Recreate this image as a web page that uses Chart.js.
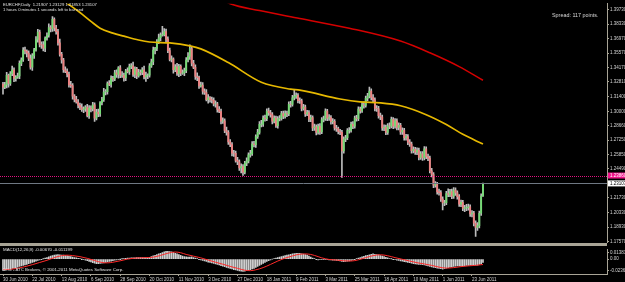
<!DOCTYPE html>
<html>
<head>
<meta charset="utf-8">
<script src="https://cdn.jsdelivr.net/npm/chart.js@4.4.0/dist/chart.umd.min.js"></script>
<style>
    html, body { margin: 0; padding: 0; background: #000; }
    #wrap { position: relative; width: 625px; height: 282px; overflow: hidden; background: #000; }
    canvas { position: absolute; left: 0; }
    .txt { position: absolute; font-family: 'Liberation Sans', Arial, sans-serif; white-space: pre; color: #e0e0e0; line-height: 1; }
</style>
</head>
<body>
<div id="wrap">
    <canvas id="price" width="625" height="246" style="top:0"></canvas>
    <div style="position:absolute;left:0;top:243px;width:607px;height:3px;background:#a8a496"></div>
    <canvas id="macd" width="625" height="36" style="top:246px"></canvas>
    <div class="txt" style="left:3px;top:3px;font-size:4.2px">EURCHF,Daily  1.21907 1.23129 1.21853 1.23107</div>
    <div class="txt" style="left:3px;top:8px;font-size:4.2px">1 hours 0 minutes 1 seconds left to bar end</div>
    <div class="txt" style="left:552px;top:13px;font-size:5.4px;color:#d8d8d8">Spread: 117 points.</div>
    <div class="txt" style="left:3px;top:248px;font-size:4.4px">MACD(12,26,9) -0.00670 -0.011199</div>
    <div class="txt" style="left:3px;top:268px;font-size:4.4px">MT4 - ATC Brokers, © 2001-2011 MetaQuotes Software Corp.</div>
</div>
<script>
// EURCHF daily, bar 0 = 30 Jun 2010, bar 262 = current bar
const opens = [
    1.3260,1.3231,1.3253,1.3345,1.3267,1.3359,1.3397,1.3314,1.3326,1.3338,
    1.3458,1.3493,1.3585,1.3577,1.3556,1.3505,1.3422,1.3532,1.3587,1.3687,
    1.3759,1.3639,1.3636,1.3605,1.3701,1.3728,1.3801,1.3789,1.3880,1.3798,
    1.3763,1.3655,1.3545,1.3491,1.3398,1.3382,1.3354,1.3253,1.3246,1.3146,
    1.3115,1.3089,1.3058,1.3037,1.3016,1.3024,1.3040,1.2958,1.3030,1.3023,
    1.3063,1.2934,1.2993,1.2976,1.3082,1.3112,1.3185,1.3188,1.3266,1.3258,
    1.3316,1.3309,1.3368,1.3352,1.3416,1.3343,1.3345,1.3319,1.3387,1.3380,
    1.3429,1.3435,1.3352,1.3406,1.3338,1.3373,1.3371,1.3397,1.3329,1.3345,
    1.3347,1.3434,1.3474,1.3585,1.3601,1.3664,1.3704,1.3730,1.3733,1.3763,
    1.3691,1.3580,1.3497,1.3500,1.3399,1.3425,1.3362,1.3430,1.3366,1.3368,
    1.3390,1.3491,1.3526,1.3599,1.3460,1.3420,1.3333,1.3322,1.3244,1.3251,
    1.3193,1.3180,1.3112,1.3129,1.3113,1.3106,1.3070,1.3072,1.3018,1.2998,
    1.2906,1.2909,1.2817,1.2800,1.2708,1.2683,1.2601,1.2599,1.2531,1.2518,
    1.2460,1.2472,1.2418,1.2505,1.2526,1.2584,1.2596,1.2688,1.2681,1.2758,
    1.2799,1.2876,1.2878,1.2936,1.2929,1.3003,1.2986,1.2969,1.2906,1.2936,
    1.2864,1.2928,1.2934,1.2979,1.2953,1.2978,1.2976,1.3068,1.3066,1.3129,
    1.3146,1.3152,1.3103,1.3101,1.3028,1.3040,1.2976,1.2988,1.2924,1.2941,
    1.2841,1.2852,1.2799,1.2857,1.2802,1.2918,1.2929,1.3003,1.2934,1.2941,
    1.2901,1.2904,1.2841,1.2834,1.2807,1.2800,1.2621,1.2735,1.2747,1.2815,
    1.2817,1.2876,1.2859,1.2936,1.2929,1.3021,1.3005,1.3063,1.3056,1.3124,
    1.3145,1.3194,1.3132,1.3110,1.3028,1.3025,1.2958,1.2946,1.2841,1.2847,
    1.2799,1.2861,1.2859,1.2923,1.2859,1.2909,1.2845,1.2866,1.2802,1.2819,
    1.2747,1.2758,1.2705,1.2688,1.2624,1.2636,1.2610,1.2627,1.2559,1.2593,
    1.2554,1.2641,1.2568,1.2552,1.2432,1.2396,1.2295,1.2303,1.2230,1.2223,
    1.2160,1.2124,1.2126,1.2213,1.2206,1.2233,1.2188,1.2246,1.2220,1.2185,
    1.2113,1.2129,1.2071,1.2077,1.2079,1.2086,1.2019,1.2026,1.1930,1.1890,
    1.1907,1.2025,1.21907
];
const highs = [
    1.3278,1.3278,1.3373,1.3357,1.3381,1.3432,1.3417,1.3341,1.3366,1.3482,
    1.3511,1.3610,1.3615,1.3589,1.3578,1.3540,1.3552,1.3602,1.3715,1.3783,
    1.3777,1.3664,1.3666,1.3713,1.3750,1.3836,1.3821,1.3907,1.3895,1.3822,
    1.3785,1.3690,1.3565,1.3506,1.3426,1.3406,1.3376,1.3288,1.3266,1.3161,
    1.3143,1.3113,1.3080,1.3072,1.3044,1.3055,1.3068,1.3054,1.3052,1.3085,
    1.3081,1.3018,1.3021,1.3094,1.3134,1.3220,1.3208,1.3281,1.3294,1.3340,
    1.3334,1.3393,1.3398,1.3428,1.3438,1.3380,1.3365,1.3402,1.3415,1.3453,
    1.3457,1.3470,1.3426,1.3421,1.3401,1.3397,1.3419,1.3432,1.3375,1.3359,
    1.3456,1.3499,1.3615,1.3613,1.3686,1.3739,1.3750,1.3812,1.3791,1.3787,
    1.3713,1.3605,1.3530,1.3512,1.3447,1.3460,1.3450,1.3445,1.3396,1.3414,
    1.3513,1.3561,1.3635,1.3611,1.3488,1.3444,1.3368,1.3337,1.3279,1.3275,
    1.3215,1.3208,1.3159,1.3141,1.3137,1.3128,1.3100,1.3087,1.3046,1.3022,
    1.2937,1.2929,1.2849,1.2815,1.2730,1.2701,1.2627,1.2621,1.2559,1.2536,
    1.2497,1.2490,1.2522,1.2555,1.2602,1.2628,1.2710,1.2713,1.2776,1.2827,
    1.2901,1.2913,1.2956,1.2964,1.3025,1.3031,1.3010,1.2988,1.2958,1.2955,
    1.2950,1.2960,1.3001,1.3003,1.3004,1.3002,1.3090,1.3095,1.3152,1.3203,
    1.3177,1.3170,1.3128,1.3118,1.3066,1.3060,1.3010,1.3006,1.2965,1.2958,
    1.2877,1.2870,1.2878,1.2882,1.2940,1.2955,1.3025,1.3020,1.2968,1.2960,
    1.2930,1.2922,1.2866,1.2850,1.2829,1.2818,1.2757,1.2771,1.2836,1.2845,
    1.2897,1.2902,1.2955,1.2962,1.3044,1.3040,1.3086,1.3090,1.3146,1.3172,
    1.3231,1.3215,1.3160,1.3128,1.3055,1.3047,1.2983,1.2965,1.2870,1.2868,
    1.2884,1.2890,1.2945,1.2940,1.2930,1.2928,1.2890,1.2885,1.2843,1.2838,
    1.2781,1.2777,1.2730,1.2706,1.2660,1.2655,1.2650,1.2648,1.2616,1.2614,
    1.2663,1.2661,1.2592,1.2572,1.2455,1.2415,1.2328,1.2322,1.2256,1.2243,
    1.2183,1.2150,1.2235,1.2260,1.2255,1.2256,1.2270,1.2268,1.2240,1.2204,
    1.2152,1.2148,1.2100,1.2110,1.2112,1.2105,1.2050,1.2044,1.1952,1.1935,
    1.2046,1.2212,1.23129
];
const lows = [
    1.3165,1.3216,1.3225,1.3232,1.3247,1.3341,1.3284,1.3289,1.3314,1.3312,
    1.3436,1.3478,1.3549,1.3521,1.3485,1.3404,1.3392,1.3507,1.3575,1.3661,
    1.3617,1.3601,1.3577,1.3570,1.3681,1.3710,1.3759,1.3764,1.3770,1.3739,
    1.3633,1.3527,1.3461,1.3373,1.3370,1.3328,1.3231,1.3228,1.3116,1.3090,
    1.3077,1.3032,1.3017,1.2998,1.2986,1.2999,1.2946,1.2932,1.2995,1.3003,
    1.2903,1.2919,1.2948,1.2951,1.3062,1.3094,1.3158,1.3163,1.3246,1.3232,
    1.3287,1.3294,1.3324,1.3317,1.3323,1.3325,1.3289,1.3294,1.3368,1.3354,
    1.3409,1.3334,1.3322,1.3313,1.3326,1.3345,1.3351,1.3311,1.3287,1.3312,
    1.3327,1.3419,1.3446,1.3550,1.3581,1.3646,1.3674,1.3718,1.3721,1.3665,
    1.3560,1.3482,1.3472,1.3364,1.3379,1.3344,1.3332,1.3341,1.3354,1.3342,
    1.3370,1.3473,1.3496,1.3435,1.3408,1.3305,1.3294,1.3219,1.3232,1.3163,
    1.3162,1.3100,1.3077,1.3088,1.3080,1.3052,1.3040,1.2993,1.2986,1.2880,
    1.2884,1.2797,1.2772,1.2683,1.2663,1.2573,1.2569,1.2513,1.2490,1.2436,
    1.2410,1.2386,1.2401,1.2480,1.2506,1.2561,1.2578,1.2660,1.2655,1.2740,
    1.2781,1.2850,1.2855,1.2906,1.2911,1.2961,1.2944,1.2880,1.2890,1.2845,
    1.2840,1.2908,1.2916,1.2931,1.2935,1.2950,1.2958,1.3040,1.3050,1.3110,
    1.3124,1.3080,1.3076,1.3004,1.3012,1.2951,1.2958,1.2902,1.2900,1.2816,
    1.2818,1.2775,1.2781,1.2780,1.2786,1.2898,1.2912,1.2910,1.2913,1.2878,
    1.2880,1.2820,1.2808,1.2785,1.2776,1.2367,1.2600,1.2710,1.2729,1.2790,
    1.2800,1.2835,1.2838,1.2905,1.2910,1.2983,1.2990,1.3031,1.3040,1.3100,
    1.3128,1.3110,1.3088,1.3003,1.3000,1.2935,1.2921,1.2818,1.2815,1.2776,
    1.2780,1.2834,1.2842,1.2835,1.2840,1.2822,1.2823,1.2780,1.2780,1.2724,
    1.2725,1.2682,1.2665,1.2600,1.2602,1.2587,1.2585,1.2536,1.2540,1.2530,
    1.2535,1.2547,1.2528,1.2410,1.2372,1.2270,1.2275,1.2207,1.2199,1.2138,
    1.2057,1.2098,1.2108,1.2184,1.2185,1.2165,1.2168,1.2196,1.2160,1.2090,
    1.2088,1.2050,1.2040,1.2050,1.2055,1.1995,1.1990,1.1905,1.1804,1.1860,
    1.1885,1.2005,1.21853
];
const closes = [
    1.3231,1.3253,1.3345,1.3267,1.3359,1.3397,1.3314,1.3326,1.3338,1.3458,
    1.3493,1.3585,1.3577,1.3556,1.3505,1.3422,1.3532,1.3587,1.3687,1.3759,
    1.3639,1.3636,1.3605,1.3701,1.3728,1.3801,1.3789,1.3880,1.3798,1.3763,
    1.3655,1.3545,1.3491,1.3398,1.3382,1.3354,1.3253,1.3246,1.3146,1.3115,
    1.3089,1.3058,1.3037,1.3016,1.3024,1.3040,1.2958,1.3030,1.3023,1.3063,
    1.2934,1.2993,1.2976,1.3082,1.3112,1.3185,1.3188,1.3266,1.3258,1.3316,
    1.3309,1.3368,1.3352,1.3416,1.3343,1.3345,1.3319,1.3387,1.3380,1.3429,
    1.3435,1.3352,1.3406,1.3338,1.3373,1.3371,1.3397,1.3329,1.3345,1.3347,
    1.3434,1.3474,1.3585,1.3601,1.3664,1.3704,1.3730,1.3733,1.3763,1.3691,
    1.3580,1.3497,1.3500,1.3399,1.3425,1.3362,1.3430,1.3366,1.3368,1.3390,
    1.3491,1.3526,1.3599,1.3460,1.3420,1.3333,1.3322,1.3244,1.3251,1.3193,
    1.3180,1.3112,1.3129,1.3113,1.3106,1.3070,1.3072,1.3018,1.2998,1.2906,
    1.2909,1.2817,1.2800,1.2708,1.2683,1.2601,1.2599,1.2531,1.2518,1.2460,
    1.2472,1.2418,1.2505,1.2526,1.2584,1.2596,1.2688,1.2681,1.2758,1.2799,
    1.2876,1.2878,1.2936,1.2929,1.3003,1.2986,1.2969,1.2906,1.2936,1.2864,
    1.2928,1.2934,1.2979,1.2953,1.2978,1.2976,1.3068,1.3066,1.3129,1.3146,
    1.3152,1.3103,1.3101,1.3028,1.3040,1.2976,1.2988,1.2924,1.2941,1.2841,
    1.2852,1.2799,1.2857,1.2802,1.2918,1.2929,1.3003,1.2934,1.2941,1.2901,
    1.2904,1.2841,1.2834,1.2807,1.2800,1.2621,1.2735,1.2747,1.2815,1.2817,
    1.2876,1.2859,1.2936,1.2929,1.3021,1.3005,1.3063,1.3056,1.3124,1.3145,
    1.3194,1.3132,1.3110,1.3028,1.3025,1.2958,1.2946,1.2841,1.2847,1.2799,
    1.2861,1.2859,1.2923,1.2859,1.2909,1.2845,1.2866,1.2802,1.2819,1.2747,
    1.2758,1.2705,1.2688,1.2624,1.2636,1.2610,1.2627,1.2559,1.2593,1.2554,
    1.2641,1.2568,1.2552,1.2432,1.2396,1.2295,1.2303,1.2230,1.2223,1.2160,
    1.2124,1.2126,1.2213,1.2206,1.2233,1.2188,1.2246,1.2220,1.2185,1.2113,
    1.2129,1.2071,1.2077,1.2079,1.2086,1.2019,1.2026,1.1930,1.1890,1.1907,
    1.2025,1.2190,1.23107
];

// moving averages, read at a few bars (bar index, price)
const maSlowBars = [31, 35, 42, 48, 53, 60, 66, 74, 80, 91, 102, 108, 123, 141, 157, 162, 184, 195, 206, 217, 231, 242, 251, 262];
const maSlowValues = [1.4085, 1.4034, 1.3945, 1.3860, 1.3795, 1.3748, 1.3719, 1.3682, 1.3663, 1.3654, 1.3626, 1.3597, 1.3466, 1.3278, 1.3212, 1.3203, 1.3118, 1.3090, 1.3081, 1.3053, 1.2968, 1.2874, 1.2780, 1.2687];
const maLongBars = [118, 124, 140, 162, 189, 217, 233, 249, 262];
const maLongValues = [1.4085, 1.4029, 1.3964, 1.3888, 1.3795, 1.3672, 1.3560, 1.3428, 1.3297];

// MACD(12,26,9) main values per bar
const macdMain = [
    -0.0235,-0.0226,-0.0215,-0.0208,-0.0198,-0.0190,-0.0184,-0.0176,-0.0165,-0.0152,
    -0.0139,-0.0128,-0.0120,-0.0108,-0.0094,-0.0083,-0.0070,-0.0057,-0.0043,-0.0030,
    -0.0018,-0.0006,0.0005,0.0019,0.0033,0.0047,0.0060,0.0072,0.0082,0.0088,
    0.0090,0.0088,0.0084,0.0080,0.0072,0.0065,0.0058,0.0050,0.0041,0.0031,
    0.0023,0.0015,0.0006,-0.0002,-0.0010,-0.0022,-0.0035,-0.0048,-0.0060,-0.0072,
    -0.0085,-0.0095,-0.0093,-0.0089,-0.0085,-0.0077,-0.0068,-0.0059,-0.0050,-0.0041,
    -0.0032,-0.0024,-0.0015,-0.0008,-0.0002,0.0005,0.0009,0.0014,0.0018,0.0022,
    0.0025,0.0026,0.0028,0.0029,0.0030,0.0030,0.0031,0.0030,0.0029,0.0030,
    0.0038,0.0051,0.0065,0.0078,0.0092,0.0106,0.0120,0.0134,0.0148,0.0160,
    0.0158,0.0155,0.0146,0.0137,0.0120,0.0106,0.0092,0.0076,0.0060,0.0052,
    0.0045,0.0040,0.0043,0.0045,0.0033,0.0021,0.0010,-0.0003,-0.0016,-0.0028,
    -0.0040,-0.0050,-0.0061,-0.0070,-0.0080,-0.0090,-0.0101,-0.0110,-0.0120,-0.0133,
    -0.0145,-0.0158,-0.0170,-0.0182,-0.0193,-0.0204,-0.0215,-0.0224,-0.0233,-0.0242,
    -0.0250,-0.0252,-0.0247,-0.0240,-0.0228,-0.0215,-0.0203,-0.0190,-0.0170,-0.0150,
    -0.0130,-0.0110,-0.0090,-0.0070,-0.0050,-0.0033,-0.0017,0.0000,0.0010,0.0020,
    0.0030,0.0040,0.0050,0.0060,0.0070,0.0080,0.0089,0.0098,0.0107,0.0115,
    0.0118,0.0120,0.0120,0.0110,0.0100,0.0090,0.0080,0.0060,0.0040,0.0020,
    0.0008,-0.0004,-0.0015,-0.0014,-0.0012,-0.0011,-0.0010,-0.0012,-0.0015,-0.0018,
    -0.0020,-0.0025,-0.0030,-0.0035,-0.0040,-0.0050,-0.0055,-0.0048,-0.0042,-0.0036,
    -0.0030,-0.0017,-0.0005,0.0008,0.0020,0.0032,0.0045,0.0058,0.0070,0.0079,
    0.0088,0.0097,0.0105,0.0099,0.0092,0.0085,0.0073,0.0062,0.0050,0.0037,
    0.0023,0.0010,0.0002,-0.0006,-0.0013,-0.0020,-0.0028,-0.0036,-0.0044,-0.0052,
    -0.0060,-0.0068,-0.0076,-0.0084,-0.0092,-0.0100,-0.0104,-0.0108,-0.0112,-0.0116,
    -0.0120,-0.0130,-0.0140,-0.0150,-0.0160,-0.0170,-0.0177,-0.0184,-0.0191,-0.0198,
    -0.0205,-0.0196,-0.0186,-0.0176,-0.0167,-0.0160,-0.0152,-0.0145,-0.0142,-0.0140,
    -0.0138,-0.0135,-0.0133,-0.0130,-0.0128,-0.0127,-0.0126,-0.0126,-0.0127,-0.0124,
    -0.0112,-0.0093,-0.0067
];
// signal line, read at a few bars
const signalBars = [0, 4, 8, 12, 16, 20, 24, 28, 32, 35, 38, 42, 46, 50, 54, 57, 60, 64, 68, 72, 78, 82, 86, 90, 94, 97, 100, 104, 108, 112, 116, 120, 124, 128, 132, 135, 138, 142, 146, 150, 154, 158, 162, 166, 170, 174, 178, 182, 186, 190, 194, 198, 202, 206, 210, 214, 218, 222, 226, 230, 234, 238, 242, 246, 250, 254, 258, 262];
const signalValues = [-0.0215, -0.0210, -0.0190, -0.0155, -0.0115, -0.0070, -0.0025, 0.0030, 0.0070, 0.0080, 0.0072, 0.0050, 0.0015, -0.0030, -0.0070, -0.0078, -0.0065, -0.0035, 0.0000, 0.0020, 0.0029, 0.0040, 0.0075, 0.0120, 0.0145, 0.0130, 0.0095, 0.0060, 0.0025, -0.0020, -0.0065, -0.0105, -0.0150, -0.0190, -0.0228, -0.0238, -0.0220, -0.0175, -0.0110, -0.0040, 0.0020, 0.0065, 0.0100, 0.0105, 0.0075, 0.0025, -0.0008, -0.0020, -0.0035, -0.0040, -0.0015, 0.0030, 0.0070, 0.0088, 0.0068, 0.0030, -0.0005, -0.0040, -0.0075, -0.0100, -0.0130, -0.0165, -0.0185, -0.0175, -0.0155, -0.0140, -0.0128, -0.0112];

// axis ticks
const xTickBars = [0, 16, 32, 48, 64, 80, 96, 112, 128, 144, 160, 176, 192, 208, 224, 240, 256];
const xTickLabels = ['30 Jun 2010', '22 Jul 2010', '13 Aug 2010', '6 Sep 2010', '28 Sep 2010', '20 Oct 2010', '11 Nov 2010', '3 Dec 2010', '27 Dec 2010', '18 Jan 2011', '9 Feb 2011', '3 Mar 2011', '25 Mar 2011', '18 Apr 2011', '10 May 2011', '1 Jun 2011', '23 Jun 2011'];
const priceTicks = [1.3973, 1.3833, 1.3697, 1.3557, 1.3417, 1.3281, 1.3140, 1.3000, 1.2866, 1.2725, 1.2585, 1.2449, 1.2173, 1.2033, 1.1893, 1.1757];
const macdTicks = [0.01381, 0, -0.02362];
const macdTickLabels = ['0.01381', '0.00', '-0.02362'];
// horizontal price lines: user level, bid
const levelValues = [1.2386, 1.23107];

// ---- look ----
const AXIS = '#a8a496';
const LABEL = '#d4d4d4';
const tickFont = { family: "'Liberation Sans', Arial, sans-serif", size: 4.5 };
const X_MIN = -1.64, X_MAX = 329.7;
const levelStyles = [
    { line: '#e0137f', dash: [1, 1], box: '#f0148a', text: '#ffffff' },
    { line: '#6f7883', dash: [], box: '#ffffff', text: '#000000' }
];

const wicks = highs.map((h, i) => ({ x: i, y: [lows[i], h] }));
const bodies = opens.map((o, i) => ({ x: i, y: [o, closes[i]] }));
const bodyColors = opens.map((o, i) => closes[i] >= o ? '#74dc74' : '#ee8080');
const maSlow = maSlowBars.map((b, i) => ({ x: b, y: maSlowValues[i] }));
const maLong = maLongBars.map((b, i) => ({ x: b, y: maLongValues[i] }));
const macdBars = macdMain.map((v, i) => ({ x: i, y: v }));
const signal = signalBars.map((b, i) => ({ x: b, y: signalValues[i] }));

const levelPlugin = {
    id: 'levels',
    afterDatasetsDraw(chart) {
        const { ctx, chartArea } = chart;
        const y = chart.scales.y;
        levelValues.forEach((v, k) => {
            const py = Math.round(y.getPixelForValue(v)) + 0.5;
            ctx.save();
            ctx.strokeStyle = levelStyles[k].line;
            ctx.lineWidth = 1;
            ctx.setLineDash(levelStyles[k].dash);
            ctx.beginPath();
            ctx.moveTo(chartArea.left, py);
            ctx.lineTo(chartArea.right, py);
            ctx.stroke();
            ctx.restore();
        });
    },
    afterDraw(chart) {
        const { ctx, chartArea } = chart;
        const y = chart.scales.y;
        levelValues.forEach((v, k) => {
            const py = y.getPixelForValue(v);
            ctx.save();
            ctx.fillStyle = levelStyles[k].box;
            ctx.fillRect(chartArea.right + 1, py - 3, 20, 6);
            ctx.fillStyle = levelStyles[k].text;
            ctx.font = "4.5px 'Liberation Sans', Arial, sans-serif";
            ctx.textBaseline = 'middle';
            ctx.fillText(v.toFixed(5), chartArea.right + 3, py);
            ctx.restore();
        });
    }
};

const common = {
    responsive: false,
    animation: false,
    devicePixelRatio: 1,
    events: [],
    plugins: { legend: { display: false }, tooltip: { enabled: false } }
};

new Chart(document.getElementById('price'), {
    type: 'bar',
    data: {
        datasets: [
            { data: wicks, backgroundColor: '#bcbcbc', barThickness: 1, grouped: false, order: 3 },
            { data: bodies, backgroundColor: bodyColors, barThickness: 1.2, grouped: false, order: 2 },
            { type: 'line', data: maSlow, borderColor: '#e6b800', borderWidth: 1.7, pointRadius: 0, cubicInterpolationMode: 'monotone', order: 1 },
            { type: 'line', data: maLong, borderColor: '#d40000', borderWidth: 1.5, pointRadius: 0, cubicInterpolationMode: 'monotone', order: 1 }
        ]
    },
    options: {
        ...common,
        layout: { autoPadding: false, padding: { left: 0, right: 0, top: 0, bottom: 3 } },
        scales: {
            x: { type: 'linear', min: X_MIN, max: X_MAX, offset: false, display: false },
            y: {
                position: 'right', min: 1.17475, max: 1.40293, bounds: 'data',
                afterFit(scale) { scale.width = 18; },
                afterBuildTicks(scale) { scale.ticks = priceTicks.map(v => ({ value: v })); },
                ticks: { callback: v => v.toFixed(5), color: LABEL, font: tickFont, padding: 1, autoSkip: false },
                grid: { drawOnChartArea: false, color: AXIS, tickLength: 2 },
                border: { color: AXIS, width: 1 }
            }
        }
    },
    plugins: [levelPlugin]
});

new Chart(document.getElementById('macd'), {
    type: 'bar',
    data: {
        datasets: [
            { data: macdBars, backgroundColor: '#cfcfcf', barThickness: 1, grouped: false, order: 2 },
            { type: 'line', data: signal, borderColor: '#ff2a2a', borderWidth: 1, pointRadius: 0, cubicInterpolationMode: 'monotone', order: 1 }
        ]
    },
    options: {
        ...common,
        layout: { autoPadding: false, padding: 0 },
        scales: {
            x: {
                type: 'linear', min: X_MIN, max: X_MAX, offset: false,
                afterFit(scale) { scale.height = 8; },
                afterBuildTicks(scale) { scale.ticks = xTickBars.map(v => ({ value: v })); },
                ticks: { callback: (v, i) => xTickLabels[i], align: 'start', maxRotation: 0, autoSkip: false, color: LABEL, font: tickFont, padding: 1 },
                grid: { drawOnChartArea: false, color: AXIS, tickLength: 2, offset: false },
                border: { color: AXIS, width: 1 }
            },
            y: {
                position: 'right', min: -0.0306, max: 0.01922, bounds: 'data',
                afterFit(scale) { scale.width = 18; },
                afterBuildTicks(scale) { scale.ticks = macdTicks.map(v => ({ value: v })); },
                ticks: { callback: (v, i) => macdTickLabels[i], color: LABEL, font: tickFont, padding: 1, autoSkip: false },
                grid: { drawOnChartArea: false, color: AXIS, tickLength: 2 },
                border: { color: AXIS, width: 1 }
            }
        }
    }
});
</script>
</body>
</html>
